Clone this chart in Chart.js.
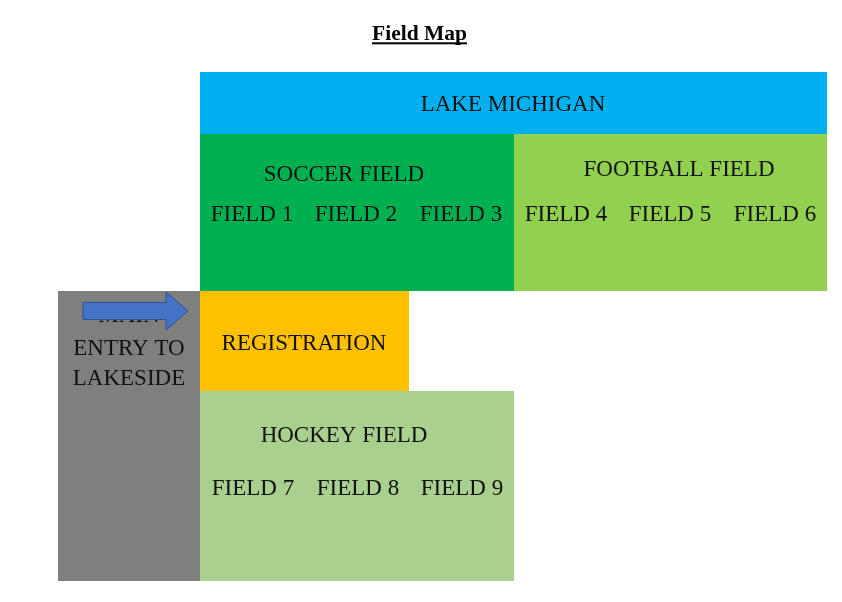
<!DOCTYPE html>
<html><head><meta charset="utf-8">
<script src="https://cdn.jsdelivr.net/npm/chart.js@4/dist/chart.umd.min.js"></script>
<style>html,body{margin:0;padding:0;background:#fff}#wrap{width:842px;height:602px}</style>
</head><body><div id="wrap"><canvas id="c" width="842" height="602"></canvas></div>
<script>
// Map data (map units, origin top-left)
const titleText = 'Field Map';
const zoneNames  = ['LAKE MICHIGAN', 'SOCCER FIELD', 'FOOTBALL FIELD', 'MAIN ENTRY', 'REGISTRATION', 'HOCKEY FIELD'];
const zoneLeft   = [200, 200, 514, 58, 200, 200];
const zoneRight  = [827, 514, 827, 200, 409, 514];
const zoneTop    = [72, 134, 134, 291, 291, 391];
const zoneBottom = [134, 291, 291, 581, 391, 581];
const zoneLabelLines = [['LAKE MICHIGAN'], ['SOCCER FIELD'], ['FOOTBALL FIELD'], ['MAIN', 'ENTRY TO', 'LAKESIDE'], ['REGISTRATION'], ['HOCKEY FIELD']];
const zoneLabelX = [513, 344, 679, 129, 304, 344];
const zoneLabelY = [[111], [181], [176], [322, 355, 385], [350], [442]];
const fieldNames = ['FIELD 1', 'FIELD 2', 'FIELD 3', 'FIELD 4', 'FIELD 5', 'FIELD 6', 'FIELD 7', 'FIELD 8', 'FIELD 9'];
const fieldX = [252, 356, 461, 566, 670, 775, 253, 358, 462];
const fieldY = [221, 221, 221, 221, 221, 221, 495, 495, 495];
const entryArrowFrom = [83, 311];
const entryArrowTo = [188, 311];

// Styles
const zoneColors = ['#00B0F0', '#00B050', '#92D050', '#7F7F7F', '#FFC000', '#A9D08E'];
const textColor = '#111111';
const labelFont = '23px "Liberation Serif", "Times New Roman", serif';

const mapPlugin = {
  id: 'fieldMap',
  afterDatasetsDraw(chart) {
    const ctx = chart.ctx, xs = chart.scales.x, ys = chart.scales.y;
    const px = v => xs.getPixelForValue(v), py = v => ys.getPixelForValue(v);
    ctx.save();
    // zones
    zoneNames.forEach((n, i) => {
      const x0 = px(zoneLeft[i]), x1 = px(zoneRight[i]);
      const y0 = py(zoneTop[i]), y1 = py(zoneBottom[i]);
      ctx.fillStyle = zoneColors[i];
      ctx.fillRect(x0, y0, x1 - x0, y1 - y0);
    });
    // zone labels
    ctx.fillStyle = textColor;
    ctx.font = labelFont;
    ctx.textAlign = 'center';
    ctx.textBaseline = 'alphabetic';
    zoneLabelLines.forEach((lines, i) => {
      lines.forEach((t, j) => {
        ctx.fillText(t, px(zoneLabelX[i]), py(zoneLabelY[i][j]));
      });
    });
    fieldNames.forEach((t, i) => {
      ctx.fillText(t, px(fieldX[i]), py(fieldY[i]));
    });
    // entry arrow
    const ax0 = px(entryArrowFrom[0]), ax1 = px(entryArrowTo[0]), ay = py(entryArrowFrom[1]);
    const shaftH = 8.5, headH = 19, headStart = ax1 - 22;
    ctx.beginPath();
    ctx.moveTo(ax0, ay - shaftH);
    ctx.lineTo(headStart, ay - shaftH);
    ctx.lineTo(headStart, ay - headH);
    ctx.lineTo(ax1, ay);
    ctx.lineTo(headStart, ay + headH);
    ctx.lineTo(headStart, ay + shaftH);
    ctx.lineTo(ax0, ay + shaftH);
    ctx.closePath();
    ctx.fillStyle = '#4472C4';
    ctx.fill();
    ctx.strokeStyle = '#2F528F';
    ctx.lineWidth = 1;
    ctx.stroke();
    // title
    ctx.fillStyle = '#000';
    ctx.font = 'bold 21.5px "Liberation Serif", "Times New Roman", serif';
    ctx.textAlign = 'center';
    const tx = px(419.5), tyy = py(40);
    ctx.fillText(titleText, tx, tyy);
    const w = ctx.measureText(titleText).width;
    ctx.fillRect(tx - w / 2, py(42.3), w, 2);
    ctx.restore();
  }
};

new Chart(document.getElementById('c'), {
  type: 'scatter',
  data: { datasets: [{ data: [], pointRadius: 0 }] },
  options: {
    responsive: false,
    animation: false,
    layout: { padding: 0 },
    plugins: { legend: { display: false }, tooltip: { enabled: false }, title: { display: false } },
    scales: {
      x: { type: 'linear', min: 0, max: 842, display: false },
      y: { type: 'linear', min: 0, max: 602, reverse: true, display: false }
    }
  },
  plugins: [mapPlugin]
});
</script>
</body></html>
